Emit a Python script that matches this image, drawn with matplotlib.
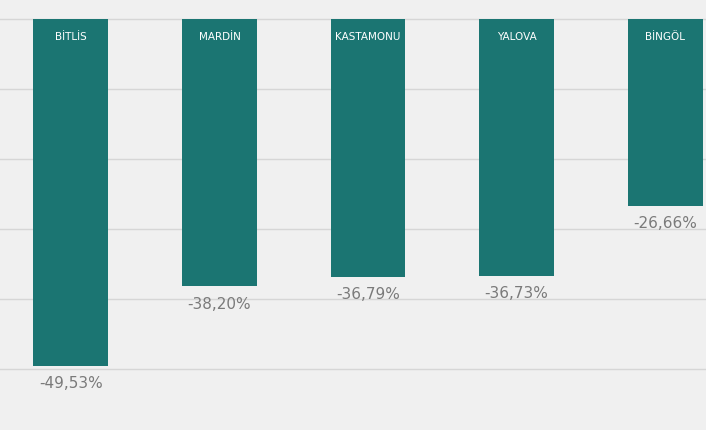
import matplotlib
matplotlib.use("Agg")
import matplotlib.pyplot as plt

cities = ["BİTLİS", "MARDİN", "KASTAMONU", "YALOVA", "BİNGÖL"]
values = [-49.53, -38.20, -36.79, -36.73, -26.66]
labels = ["-49,53%", "-38,20%", "-36,79%", "-36,73%", "-26,66%"]

fig = plt.figure(figsize=(7.06, 4.31), dpi=100)
fig.patch.set_facecolor("#f0f0f0")
ax = fig.add_axes([0, 0, 1, 1])
ax.set_facecolor("#f0f0f0")
for g in [0, -10, -20, -30, -40, -50]:
    ax.axhline(g, color="#d6d6d6", lw=1, zorder=0)
x = list(range(len(cities)))
ax.bar(x, values, width=0.505, color="#1b7572", zorder=2)
for i, (c, v, l) in enumerate(zip(cities, values, labels)):
    ax.text(i, -2.4, c, color="white", ha="center", va="center", fontsize=7.5, zorder=3)
    ax.text(i, v - 1.3, l, color="#7a7a7a", ha="center", va="top", fontsize=11, zorder=3)
ax.set_xlim(-0.478, 4.276)
ax.set_ylim(-58.71, 2.857)
ax.axis("off")
fig.savefig("out.png", dpi=100, facecolor=fig.get_facecolor())
